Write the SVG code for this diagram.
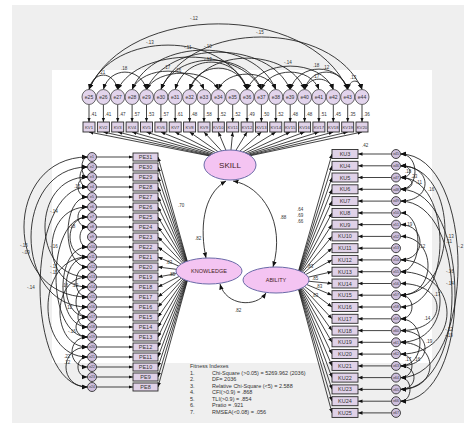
<svg xmlns="http://www.w3.org/2000/svg" width="465" height="424" viewBox="0 0 465 424">
<defs>
<style>
.ln{stroke:#222;stroke-width:.85;fill:none;marker-end:url(#ah)}
.cv{stroke:#1a1a1a;stroke-width:.85;fill:none;marker-start:url(#ch);marker-end:url(#ch)}
.ec{fill:#e2d4ec;stroke:#444;stroke-width:.8}
circle.ec{fill:#cdbfdc;stroke:#333;stroke-width:.9}
.ind{fill:#e0d2e8;stroke:#2a2a2a;stroke-width:.9}
.lat{fill:#f4c4f2;stroke:#6a6aa8;stroke-width:1}
text{font-family:"Liberation Sans",Arial,sans-serif;fill:#333}
.n{font-size:5px;text-anchor:middle}
.m{font-size:4.3px;text-anchor:middle}
.p{font-size:5.5px;text-anchor:middle}
.q{font-size:3.4px;text-anchor:middle}
.s{font-size:4.5px}
.f{font-size:5.5px}
.L{font-size:5.5px;text-anchor:middle;fill:#422}
</style>
<marker id="ah" viewBox="0 0 10 10" refX="10" refY="5" markerWidth="4.5" markerHeight="4.5" markerUnits="userSpaceOnUse" orient="auto"><path d="M0,1 L10,5 L0,9 z" fill="#111"/></marker>
<marker id="ch" viewBox="0 0 10 10" refX="10" refY="5" markerWidth="5.5" markerHeight="5.5" markerUnits="userSpaceOnUse" orient="auto-start-reverse"><path d="M0,1 L10,5 L0,9 z" fill="#111"/></marker>
</defs>
<rect x="0" y="0" width="465" height="424" fill="#fff"/>
<rect x="12" y="5" width="452" height="418" fill="#efefef"/>
<rect x="52" y="70" width="380" height="293" fill="#fff"/>

<g id="connectors">
<line class="ln" x1="230" y1="160" x2="89" y2="132"/>
<line class="ln" x1="230" y1="160" x2="103.4" y2="132"/>
<line class="ln" x1="230" y1="160" x2="117.7" y2="132"/>
<line class="ln" x1="230" y1="160" x2="132.1" y2="132"/>
<line class="ln" x1="230" y1="160" x2="146.5" y2="132"/>
<line class="ln" x1="230" y1="160" x2="160.9" y2="132"/>
<line class="ln" x1="230" y1="160" x2="175.2" y2="132"/>
<line class="ln" x1="230" y1="160" x2="189.6" y2="132"/>
<line class="ln" x1="230" y1="160" x2="204" y2="132"/>
<line class="ln" x1="230" y1="160" x2="218.3" y2="132"/>
<line class="ln" x1="230" y1="160" x2="232.7" y2="132"/>
<line class="ln" x1="230" y1="160" x2="247.1" y2="132"/>
<line class="ln" x1="230" y1="160" x2="261.4" y2="132"/>
<line class="ln" x1="230" y1="160" x2="275.8" y2="132"/>
<line class="ln" x1="230" y1="160" x2="290.2" y2="132"/>
<line class="ln" x1="230" y1="160" x2="304.6" y2="132"/>
<line class="ln" x1="230" y1="160" x2="318.9" y2="132"/>
<line class="ln" x1="230" y1="160" x2="333.3" y2="132"/>
<line class="ln" x1="230" y1="160" x2="347.7" y2="132"/>
<line class="ln" x1="230" y1="160" x2="362" y2="132"/>
<line class="ln" x1="89" y1="104.5" x2="89" y2="122"/>
<line class="ln" x1="103.4" y1="104.5" x2="103.4" y2="122"/>
<line class="ln" x1="117.7" y1="104.5" x2="117.7" y2="122"/>
<line class="ln" x1="132.1" y1="104.5" x2="132.1" y2="122"/>
<line class="ln" x1="146.5" y1="104.5" x2="146.5" y2="122"/>
<line class="ln" x1="160.9" y1="104.5" x2="160.9" y2="122"/>
<line class="ln" x1="175.2" y1="104.5" x2="175.2" y2="122"/>
<line class="ln" x1="189.6" y1="104.5" x2="189.6" y2="122"/>
<line class="ln" x1="204" y1="104.5" x2="204" y2="122"/>
<line class="ln" x1="218.3" y1="104.5" x2="218.3" y2="122"/>
<line class="ln" x1="232.7" y1="104.5" x2="232.7" y2="122"/>
<line class="ln" x1="247.1" y1="104.5" x2="247.1" y2="122"/>
<line class="ln" x1="261.4" y1="104.5" x2="261.4" y2="122"/>
<line class="ln" x1="275.8" y1="104.5" x2="275.8" y2="122"/>
<line class="ln" x1="290.2" y1="104.5" x2="290.2" y2="122"/>
<line class="ln" x1="304.6" y1="104.5" x2="304.6" y2="122"/>
<line class="ln" x1="318.9" y1="104.5" x2="318.9" y2="122"/>
<line class="ln" x1="333.3" y1="104.5" x2="333.3" y2="122"/>
<line class="ln" x1="347.7" y1="104.5" x2="347.7" y2="122"/>
<line class="ln" x1="362" y1="104.5" x2="362" y2="122"/>
<line class="ln" x1="190" y1="271" x2="158" y2="157"/>
<line class="ln" x1="190" y1="271" x2="158" y2="167"/>
<line class="ln" x1="190" y1="271" x2="158" y2="177"/>
<line class="ln" x1="190" y1="271" x2="158" y2="187"/>
<line class="ln" x1="190" y1="271" x2="158" y2="197"/>
<line class="ln" x1="190" y1="271" x2="158" y2="207"/>
<line class="ln" x1="190" y1="271" x2="158" y2="217"/>
<line class="ln" x1="190" y1="271" x2="158" y2="227"/>
<line class="ln" x1="190" y1="271" x2="158" y2="237"/>
<line class="ln" x1="190" y1="271" x2="158" y2="247"/>
<line class="ln" x1="190" y1="271" x2="158" y2="257"/>
<line class="ln" x1="190" y1="271" x2="158" y2="267"/>
<line class="ln" x1="190" y1="271" x2="158" y2="277"/>
<line class="ln" x1="190" y1="271" x2="158" y2="287"/>
<line class="ln" x1="190" y1="271" x2="158" y2="297"/>
<line class="ln" x1="190" y1="271" x2="158" y2="307"/>
<line class="ln" x1="190" y1="271" x2="158" y2="317"/>
<line class="ln" x1="190" y1="271" x2="158" y2="327"/>
<line class="ln" x1="190" y1="271" x2="158" y2="337"/>
<line class="ln" x1="190" y1="271" x2="158" y2="347"/>
<line class="ln" x1="190" y1="271" x2="158" y2="357"/>
<line class="ln" x1="190" y1="271" x2="158" y2="367"/>
<line class="ln" x1="190" y1="271" x2="158" y2="377"/>
<line class="ln" x1="190" y1="271" x2="158" y2="387"/>
<line class="ln" x1="96.5" y1="157" x2="133" y2="157"/>
<line class="ln" x1="96.5" y1="167" x2="133" y2="167"/>
<line class="ln" x1="96.5" y1="177" x2="133" y2="177"/>
<line class="ln" x1="96.5" y1="187" x2="133" y2="187"/>
<line class="ln" x1="96.5" y1="197" x2="133" y2="197"/>
<line class="ln" x1="96.5" y1="207" x2="133" y2="207"/>
<line class="ln" x1="96.5" y1="217" x2="133" y2="217"/>
<line class="ln" x1="96.5" y1="227" x2="133" y2="227"/>
<line class="ln" x1="96.5" y1="237" x2="133" y2="237"/>
<line class="ln" x1="96.5" y1="247" x2="133" y2="247"/>
<line class="ln" x1="96.5" y1="257" x2="133" y2="257"/>
<line class="ln" x1="96.5" y1="267" x2="133" y2="267"/>
<line class="ln" x1="96.5" y1="277" x2="133" y2="277"/>
<line class="ln" x1="96.5" y1="287" x2="133" y2="287"/>
<line class="ln" x1="96.5" y1="297" x2="133" y2="297"/>
<line class="ln" x1="96.5" y1="307" x2="133" y2="307"/>
<line class="ln" x1="96.5" y1="317" x2="133" y2="317"/>
<line class="ln" x1="96.5" y1="327" x2="133" y2="327"/>
<line class="ln" x1="96.5" y1="337" x2="133" y2="337"/>
<line class="ln" x1="96.5" y1="347" x2="133" y2="347"/>
<line class="ln" x1="96.5" y1="357" x2="133" y2="357"/>
<line class="ln" x1="96.5" y1="367" x2="133" y2="367"/>
<line class="ln" x1="96.5" y1="377" x2="133" y2="377"/>
<line class="ln" x1="96.5" y1="387" x2="133" y2="387"/>
<line class="ln" x1="296" y1="280" x2="332" y2="154"/>
<line class="ln" x1="296" y1="280" x2="332" y2="165.8"/>
<line class="ln" x1="296" y1="280" x2="332" y2="177.5"/>
<line class="ln" x1="296" y1="280" x2="332" y2="189.3"/>
<line class="ln" x1="296" y1="280" x2="332" y2="201.1"/>
<line class="ln" x1="296" y1="280" x2="332" y2="212.9"/>
<line class="ln" x1="296" y1="280" x2="332" y2="224.6"/>
<line class="ln" x1="296" y1="280" x2="332" y2="236.4"/>
<line class="ln" x1="296" y1="280" x2="332" y2="248.2"/>
<line class="ln" x1="296" y1="280" x2="332" y2="259.9"/>
<line class="ln" x1="296" y1="280" x2="332" y2="271.7"/>
<line class="ln" x1="296" y1="280" x2="332" y2="283.5"/>
<line class="ln" x1="296" y1="280" x2="332" y2="295.2"/>
<line class="ln" x1="296" y1="280" x2="332" y2="307"/>
<line class="ln" x1="296" y1="280" x2="332" y2="318.8"/>
<line class="ln" x1="296" y1="280" x2="332" y2="330.6"/>
<line class="ln" x1="296" y1="280" x2="332" y2="342.3"/>
<line class="ln" x1="296" y1="280" x2="332" y2="354.1"/>
<line class="ln" x1="296" y1="280" x2="332" y2="365.9"/>
<line class="ln" x1="296" y1="280" x2="332" y2="377.6"/>
<line class="ln" x1="296" y1="280" x2="332" y2="389.4"/>
<line class="ln" x1="296" y1="280" x2="332" y2="401.2"/>
<line class="ln" x1="296" y1="280" x2="332" y2="412.9"/>
<line class="ln" x1="391.5" y1="154" x2="358" y2="154"/>
<line class="ln" x1="391.5" y1="165.8" x2="358" y2="165.8"/>
<line class="ln" x1="391.5" y1="177.5" x2="358" y2="177.5"/>
<line class="ln" x1="391.5" y1="189.3" x2="358" y2="189.3"/>
<line class="ln" x1="391.5" y1="201.1" x2="358" y2="201.1"/>
<line class="ln" x1="391.5" y1="212.9" x2="358" y2="212.9"/>
<line class="ln" x1="391.5" y1="224.6" x2="358" y2="224.6"/>
<line class="ln" x1="391.5" y1="236.4" x2="358" y2="236.4"/>
<line class="ln" x1="391.5" y1="248.2" x2="358" y2="248.2"/>
<line class="ln" x1="391.5" y1="259.9" x2="358" y2="259.9"/>
<line class="ln" x1="391.5" y1="271.7" x2="358" y2="271.7"/>
<line class="ln" x1="391.5" y1="283.5" x2="358" y2="283.5"/>
<line class="ln" x1="391.5" y1="295.2" x2="358" y2="295.2"/>
<line class="ln" x1="391.5" y1="307" x2="358" y2="307"/>
<line class="ln" x1="391.5" y1="318.8" x2="358" y2="318.8"/>
<line class="ln" x1="391.5" y1="330.6" x2="358" y2="330.6"/>
<line class="ln" x1="391.5" y1="342.3" x2="358" y2="342.3"/>
<line class="ln" x1="391.5" y1="354.1" x2="358" y2="354.1"/>
<line class="ln" x1="391.5" y1="365.9" x2="358" y2="365.9"/>
<line class="ln" x1="391.5" y1="377.6" x2="358" y2="377.6"/>
<line class="ln" x1="391.5" y1="389.4" x2="358" y2="389.4"/>
<line class="ln" x1="391.5" y1="401.2" x2="358" y2="401.2"/>
<line class="ln" x1="391.5" y1="412.9" x2="358" y2="412.9"/>
<path class="cv" d="M206 258 C200 230 202 195 226 181"/>
<path class="cv" d="M233 181 C262 186 286 222 273 267"/>
<path class="cv" d="M220 284 C226 306 256 308 266 293"/>
<path class="cv" d="M89 89.5 C127.8 2 308.9 2 347.7 89.5"/>
<path class="cv" d="M160.9 89.5 C191.1 19.5 331.8 19.5 362 89.5"/>
<path class="cv" d="M89 89.5 C112.7 30.3 223.4 30.3 247.1 89.5"/>
<path class="cv" d="M132.1 89.5 C153.7 37 254.2 37 275.8 89.5"/>
<path class="cv" d="M146.5 89.5 C168.1 39.7 268.6 39.7 290.2 89.5"/>
<path class="cv" d="M175.2 89.5 C186 53 236.3 53 247.1 89.5"/>
<path class="cv" d="M247.1 89.5 C260 58.3 320.4 58.3 333.3 89.5"/>
<path class="cv" d="M89 89.5 C93.3 70.3 113.4 70.3 117.7 89.5"/>
<path class="cv" d="M103.4 89.5 C109.9 66.3 140 66.3 146.5 89.5"/>
<path class="cv" d="M132.1 89.5 C142.9 65 193.2 65 204 89.5"/>
<path class="cv" d="M146.5 89.5 C157.3 67.7 207.5 67.7 218.3 89.5"/>
<path class="cv" d="M290.2 89.5 C298.8 62.3 339.1 62.3 347.7 89.5"/>
<path class="cv" d="M304.6 89.5 C311.1 66.3 341.2 66.3 347.7 89.5"/>
<path class="cv" d="M304.6 89.5 C308.9 75.7 329 75.7 333.3 89.5"/>
<path class="cv" d="M347.7 89.5 C349.8 78.3 359.9 78.3 362 89.5"/>
<path class="cv" d="M117.7 89.5 C139.3 46.3 239.8 46.3 261.4 89.5"/>
<path class="cv" d="M189.6 89.5 C206.9 47.7 287.3 47.7 304.6 89.5"/>
<path class="cv" d="M261.4 89.5 C270 66.3 310.3 66.3 318.9 89.5"/>
<path class="cv" d="M218.3 89.5 C226.9 69 267.2 69 275.8 89.5"/>
<path class="cv" d="M160.9 89.5 C176 50.3 246.3 50.3 261.4 89.5"/>
<path class="cv" d="M189.6 89.5 C198.2 61 238.5 61 247.1 89.5"/>
<path class="cv" d="M87.5 157 C2.8 157 2.8 297 87.5 297"/>
<path class="cv" d="M87.5 167 C12.2 167 12.2 307 87.5 307"/>
<path class="cv" d="M87.5 187 C24.2 187 24.2 387 87.5 387"/>
<path class="cv" d="M87.5 177 C30.8 177 30.8 277 87.5 277"/>
<path class="cv" d="M87.5 207 C40.2 207 40.2 287 87.5 287"/>
<path class="cv" d="M87.5 217 C45.5 217 45.5 337 87.5 337"/>
<path class="cv" d="M87.5 247 C54.8 247 54.8 327 87.5 327"/>
<path class="cv" d="M87.5 257 C58.8 257 58.8 317 87.5 317"/>
<path class="cv" d="M87.5 157 C80 157 80 177 87.5 177"/>
<path class="cv" d="M87.5 167 C77.5 167 77.5 187 87.5 187"/>
<path class="cv" d="M87.5 177 C74.8 177 74.8 197 87.5 197"/>
<path class="cv" d="M87.5 207 C74.8 207 74.8 227 87.5 227"/>
<path class="cv" d="M87.5 287 C72.2 287 72.2 317 87.5 317"/>
<path class="cv" d="M87.5 307 C74.8 307 74.8 327 87.5 327"/>
<path class="cv" d="M87.5 317 C72.2 317 72.2 337 87.5 337"/>
<path class="cv" d="M87.5 337 C66.8 337 66.8 367 87.5 367"/>
<path class="cv" d="M87.5 357 C74.8 357 74.8 377 87.5 377"/>
<path class="cv" d="M87.5 347 C58.8 347 58.8 387 87.5 387"/>
<path class="cv" d="M87.5 257 C34.8 257 34.8 357 87.5 357"/>
<path class="cv" d="M87.5 197 C61.5 197 61.5 267 87.5 267"/>
<path class="cv" d="M87.5 227 C77.5 227 77.5 247 87.5 247"/>
<path class="cv" d="M87.5 267 C72.2 267 72.2 297 87.5 297"/>
<path class="cv" d="M87.5 217 C64.2 217 64.2 257 87.5 257"/>
<path class="cv" d="M87.5 277 C50.8 277 50.8 347 87.5 347"/>
<path class="cv" d="M400.5 154 C477.2 154 477.2 377.6 400.5 377.6"/>
<path class="cv" d="M400.5 165.8 C459.8 165.8 459.8 295.2 400.5 295.2"/>
<path class="cv" d="M400.5 177.5 C453.2 177.5 453.2 307 400.5 307"/>
<path class="cv" d="M400.5 165.8 C433.2 165.8 433.2 201.1 400.5 201.1"/>
<path class="cv" d="M400.5 165.8 C413.2 165.8 413.2 177.5 400.5 177.5"/>
<path class="cv" d="M400.5 177.5 C415.8 177.5 415.8 189.3 400.5 189.3"/>
<path class="cv" d="M400.5 212.9 C423.8 212.9 423.8 271.7 400.5 271.7"/>
<path class="cv" d="M400.5 224.6 C426.5 224.6 426.5 259.9 400.5 259.9"/>
<path class="cv" d="M400.5 259.9 C453.2 259.9 453.2 342.3 400.5 342.3"/>
<path class="cv" d="M400.5 271.7 C462.5 271.7 462.5 354.1 400.5 354.1"/>
<path class="cv" d="M400.5 201.1 C469.2 201.1 469.2 389.4 400.5 389.4"/>
<path class="cv" d="M400.5 189.3 C473.2 189.3 473.2 401.2 400.5 401.2"/>
<path class="cv" d="M400.5 283.5 C449.2 283.5 449.2 330.6 400.5 330.6"/>
<path class="cv" d="M400.5 330.6 C433.2 330.6 433.2 365.9 400.5 365.9"/>
<path class="cv" d="M400.5 354.1 C415.8 354.1 415.8 377.6 400.5 377.6"/>
<path class="cv" d="M400.5 377.6 C413.2 377.6 413.2 401.2 400.5 401.2"/>
<path class="cv" d="M400.5 342.3 C439.8 342.3 439.8 389.4 400.5 389.4"/>
<path class="cv" d="M400.5 236.4 C437.2 236.4 437.2 295.2 400.5 295.2"/>
<path class="cv" d="M400.5 318.8 C426.5 318.8 426.5 365.9 400.5 365.9"/>
<path class="cv" d="M400.5 154 C419.8 154 419.8 189.3 400.5 189.3"/>
<path class="cv" d="M400.5 295.2 C415.8 295.2 415.8 318.8 400.5 318.8"/>
<path class="cv" d="M400.5 365.9 C418.5 365.9 418.5 389.4 400.5 389.4"/>
</g>

<g id="labels">
<text class="s" x="190" y="20">-.12</text>
<text class="s" x="256" y="34">-.15</text>
<text class="s" x="146" y="44">-.13</text>
<text class="s" x="184" y="49">-.11</text>
<text class="s" x="204" y="48">-.10</text>
<text class="s" x="204" y="61">-.13</text>
<text class="s" x="284" y="64">-.14</text>
<text class="s" x="99" y="74">.21</text>
<text class="s" x="121" y="70">.18</text>
<text class="s" x="164" y="69">.17</text>
<text class="s" x="175" y="72">.16</text>
<text class="s" x="313" y="67">.18</text>
<text class="s" x="323" y="69">.12</text>
<text class="s" x="313" y="78">.17</text>
<text class="s" x="350" y="79">.13</text>
<text class="s" x="90.5" y="116">.41</text>
<text class="s" x="104.9" y="116">.41</text>
<text class="s" x="119.2" y="116">.47</text>
<text class="s" x="133.6" y="116">.57</text>
<text class="s" x="148" y="116">.53</text>
<text class="s" x="162.4" y="116">.57</text>
<text class="s" x="176.7" y="116">.61</text>
<text class="s" x="191.1" y="116">.48</text>
<text class="s" x="205.5" y="116">.58</text>
<text class="s" x="219.8" y="116">.52</text>
<text class="s" x="234.2" y="116">.52</text>
<text class="s" x="248.6" y="116">.49</text>
<text class="s" x="262.9" y="116">.50</text>
<text class="s" x="277.3" y="116">.52</text>
<text class="s" x="291.7" y="116">.48</text>
<text class="s" x="306.1" y="116">.48</text>
<text class="s" x="320.4" y="116">.51</text>
<text class="s" x="334.8" y="116">.45</text>
<text class="s" x="349.2" y="116">.35</text>
<text class="s" x="363.5" y="116">.36</text>
<text class="s" x="20" y="247">-.15</text>
<text class="s" x="22" y="254">-.09</text>
<text class="s" x="50" y="213">-.14</text>
<text class="s" x="50" y="248">-.16</text>
<text class="s" x="50" y="268">-.11</text>
<text class="s" x="50" y="274">-.15</text>
<text class="s" x="27" y="289">-.14</text>
<text class="s" x="74" y="188">.15</text>
<text class="s" x="69" y="228">.18</text>
<text class="s" x="62" y="287">.16</text>
<text class="s" x="72" y="287">.22</text>
<text class="s" x="66" y="309">.12</text>
<text class="s" x="68" y="333">-.16</text>
<text class="s" x="64" y="358">.22</text>
<text class="s" x="64" y="364">.12</text>
<text class="s" x="405" y="173">.18</text>
<text class="s" x="411" y="178">.23</text>
<text class="s" x="416" y="184">.11</text>
<text class="s" x="428" y="191">.16</text>
<text class="s" x="406" y="226">.19</text>
<text class="s" x="419" y="248">.12</text>
<text class="s" x="446" y="238">-.13</text>
<text class="s" x="446" y="243">.11</text>
<text class="s" x="458" y="248">-.2</text>
<text class="s" x="446" y="273">-.16</text>
<text class="s" x="446" y="285">-.14</text>
<text class="s" x="434" y="296">.17</text>
<text class="s" x="424" y="320">.14</text>
<text class="s" x="445" y="331">-.12</text>
<text class="s" x="445" y="337">-.19</text>
<text class="s" x="426" y="343">.19</text>
<text class="s" x="405" y="361">.17</text>
<text class="s" x="414" y="361">.16</text>
<text class="s" x="362" y="147">.42</text>
<text class="s" x="178" y="207">.70</text>
<text class="s" x="166" y="264">.83</text>
<text class="s" x="169" y="276">.85</text>
<text class="s" x="297" y="211">.64</text>
<text class="s" x="297" y="217">.69</text>
<text class="s" x="297" y="223">.66</text>
<text class="s" x="307" y="268">.83</text>
<text class="s" x="312" y="280">.85</text>
<text class="s" x="316" y="288">.83</text>
<text class="s" x="312" y="297">.83</text>
<text class="s" x="195" y="240">.82</text>
<text class="s" x="280" y="219">.88</text>
<text class="s" x="235" y="312">.82</text>
</g>

<g id="fitness">
<text class="f" x="190" y="368">Fitness Indexes</text>
<text class="f" x="190" y="374.5">1.</text><text class="f" x="212" y="374.5">Chi-Square (&gt;0.05) = 5269.962 (2036)</text>
<text class="f" x="190" y="381">2.</text><text class="f" x="212" y="381">DF= 2036</text>
<text class="f" x="190" y="387.5">3.</text><text class="f" x="212" y="387.5">Relative Chi-Square (&lt;5) = 2.588</text>
<text class="f" x="190" y="394">4.</text><text class="f" x="212" y="394">CFI(&gt;0.9) = .868</text>
<text class="f" x="190" y="400.5">5.</text><text class="f" x="212" y="400.5">TLI(&gt;0.9) = .854</text>
<text class="f" x="190" y="407">6.</text><text class="f" x="212" y="407">Pratio = .921</text>
<text class="f" x="190" y="413.5">7.</text><text class="f" x="212" y="413.5">RMSEA(&lt;0.08) = .056</text>
</g>

<g id="SKILL"><ellipse class="lat" cx="230" cy="165" rx="26" ry="15"/><text x="230" y="168" style="font-size:8px;text-anchor:middle;fill:#422">SKILL</text></g>
<g id="KNOWLEDGE"><ellipse class="lat" cx="209" cy="271" rx="33" ry="13"/><text class="L" x="209" y="273">KNOWLEDGE</text></g>
<g id="ABILITY"><ellipse class="lat" cx="276" cy="280" rx="33" ry="13"/><text class="L" x="276" y="282">ABILITY</text></g>

<g id="e25"><ellipse class="ec" cx="89" cy="97" rx="7" ry="7.5"/><text class="n" x="89" y="98.8">e25</text></g>
<g id="e26"><ellipse class="ec" cx="103.4" cy="97" rx="7" ry="7.5"/><text class="n" x="103.4" y="98.8">e26</text></g>
<g id="e27"><ellipse class="ec" cx="117.7" cy="97" rx="7" ry="7.5"/><text class="n" x="117.7" y="98.8">e27</text></g>
<g id="e28"><ellipse class="ec" cx="132.1" cy="97" rx="7" ry="7.5"/><text class="n" x="132.1" y="98.8">e28</text></g>
<g id="e29"><ellipse class="ec" cx="146.5" cy="97" rx="7" ry="7.5"/><text class="n" x="146.5" y="98.8">e29</text></g>
<g id="e30"><ellipse class="ec" cx="160.9" cy="97" rx="7" ry="7.5"/><text class="n" x="160.9" y="98.8">e30</text></g>
<g id="e31"><ellipse class="ec" cx="175.2" cy="97" rx="7" ry="7.5"/><text class="n" x="175.2" y="98.8">e31</text></g>
<g id="e32"><ellipse class="ec" cx="189.6" cy="97" rx="7" ry="7.5"/><text class="n" x="189.6" y="98.8">e32</text></g>
<g id="e33"><ellipse class="ec" cx="204" cy="97" rx="7" ry="7.5"/><text class="n" x="204" y="98.8">e33</text></g>
<g id="e34"><ellipse class="ec" cx="218.3" cy="97" rx="7" ry="7.5"/><text class="n" x="218.3" y="98.8">e34</text></g>
<g id="e35"><ellipse class="ec" cx="232.7" cy="97" rx="7" ry="7.5"/><text class="n" x="232.7" y="98.8">e35</text></g>
<g id="e36"><ellipse class="ec" cx="247.1" cy="97" rx="7" ry="7.5"/><text class="n" x="247.1" y="98.8">e36</text></g>
<g id="e37"><ellipse class="ec" cx="261.4" cy="97" rx="7" ry="7.5"/><text class="n" x="261.4" y="98.8">e37</text></g>
<g id="e38"><ellipse class="ec" cx="275.8" cy="97" rx="7" ry="7.5"/><text class="n" x="275.8" y="98.8">e38</text></g>
<g id="e39"><ellipse class="ec" cx="290.2" cy="97" rx="7" ry="7.5"/><text class="n" x="290.2" y="98.8">e39</text></g>
<g id="e40"><ellipse class="ec" cx="304.6" cy="97" rx="7" ry="7.5"/><text class="n" x="304.6" y="98.8">e40</text></g>
<g id="e41"><ellipse class="ec" cx="318.9" cy="97" rx="7" ry="7.5"/><text class="n" x="318.9" y="98.8">e41</text></g>
<g id="e42"><ellipse class="ec" cx="333.3" cy="97" rx="7" ry="7.5"/><text class="n" x="333.3" y="98.8">e42</text></g>
<g id="e43"><ellipse class="ec" cx="347.7" cy="97" rx="7" ry="7.5"/><text class="n" x="347.7" y="98.8">e43</text></g>
<g id="e44"><ellipse class="ec" cx="362" cy="97" rx="7" ry="7.5"/><text class="n" x="362" y="98.8">e44</text></g>

<g id="KV1"><rect class="ind" x="83" y="122" width="12" height="10"/><text class="m" x="89" y="128.5">KV1</text></g>
<g id="KV2"><rect class="ind" x="97.4" y="122" width="12" height="10"/><text class="m" x="103.4" y="128.5">KV2</text></g>
<g id="KV3"><rect class="ind" x="111.7" y="122" width="12" height="10"/><text class="m" x="117.7" y="128.5">KV3</text></g>
<g id="KV4"><rect class="ind" x="126.1" y="122" width="12" height="10"/><text class="m" x="132.1" y="128.5">KV4</text></g>
<g id="KV5"><rect class="ind" x="140.5" y="122" width="12" height="10"/><text class="m" x="146.5" y="128.5">KV5</text></g>
<g id="KV6"><rect class="ind" x="154.9" y="122" width="12" height="10"/><text class="m" x="160.9" y="128.5">KV6</text></g>
<g id="KV7"><rect class="ind" x="169.2" y="122" width="12" height="10"/><text class="m" x="175.2" y="128.5">KV7</text></g>
<g id="KV8"><rect class="ind" x="183.6" y="122" width="12" height="10"/><text class="m" x="189.6" y="128.5">KV8</text></g>
<g id="KV9"><rect class="ind" x="198" y="122" width="12" height="10"/><text class="m" x="204" y="128.5">KV9</text></g>
<g id="KV10"><rect class="ind" x="212.3" y="122" width="12" height="10"/><text class="m" x="218.3" y="128.5">KV10</text></g>
<g id="KV11"><rect class="ind" x="226.7" y="122" width="12" height="10"/><text class="m" x="232.7" y="128.5">KV11</text></g>
<g id="KV12"><rect class="ind" x="241.1" y="122" width="12" height="10"/><text class="m" x="247.1" y="128.5">KV12</text></g>
<g id="KV13"><rect class="ind" x="255.4" y="122" width="12" height="10"/><text class="m" x="261.4" y="128.5">KV13</text></g>
<g id="KV14"><rect class="ind" x="269.8" y="122" width="12" height="10"/><text class="m" x="275.8" y="128.5">KV14</text></g>
<g id="KV15"><rect class="ind" x="284.2" y="122" width="12" height="10"/><text class="m" x="290.2" y="128.5">KV15</text></g>
<g id="KV16"><rect class="ind" x="298.6" y="122" width="12" height="10"/><text class="m" x="304.6" y="128.5">KV16</text></g>
<g id="KV17"><rect class="ind" x="312.9" y="122" width="12" height="10"/><text class="m" x="318.9" y="128.5">KV17</text></g>
<g id="KV18"><rect class="ind" x="327.3" y="122" width="12" height="10"/><text class="m" x="333.3" y="128.5">KV18</text></g>
<g id="KV19"><rect class="ind" x="341.7" y="122" width="12" height="10"/><text class="m" x="347.7" y="128.5">KV19</text></g>
<g id="KV20"><rect class="ind" x="356" y="122" width="12" height="10"/><text class="m" x="362" y="128.5">KV20</text></g>

<g id="PE31"><rect class="ind" x="133" y="153" width="25" height="8"/><text class="p" x="145.5" y="159">PE31</text></g>
<g id="PE30"><rect class="ind" x="133" y="163" width="25" height="8"/><text class="p" x="145.5" y="169">PE30</text></g>
<g id="PE29"><rect class="ind" x="133" y="173" width="25" height="8"/><text class="p" x="145.5" y="179">PE29</text></g>
<g id="PE28"><rect class="ind" x="133" y="183" width="25" height="8"/><text class="p" x="145.5" y="189">PE28</text></g>
<g id="PE27"><rect class="ind" x="133" y="193" width="25" height="8"/><text class="p" x="145.5" y="199">PE27</text></g>
<g id="PE26"><rect class="ind" x="133" y="203" width="25" height="8"/><text class="p" x="145.5" y="209">PE26</text></g>
<g id="PE25"><rect class="ind" x="133" y="213" width="25" height="8"/><text class="p" x="145.5" y="219">PE25</text></g>
<g id="PE24"><rect class="ind" x="133" y="223" width="25" height="8"/><text class="p" x="145.5" y="229">PE24</text></g>
<g id="PE23"><rect class="ind" x="133" y="233" width="25" height="8"/><text class="p" x="145.5" y="239">PE23</text></g>
<g id="PE22"><rect class="ind" x="133" y="243" width="25" height="8"/><text class="p" x="145.5" y="249">PE22</text></g>
<g id="PE21"><rect class="ind" x="133" y="253" width="25" height="8"/><text class="p" x="145.5" y="259">PE21</text></g>
<g id="PE20"><rect class="ind" x="133" y="263" width="25" height="8"/><text class="p" x="145.5" y="269">PE20</text></g>
<g id="PE19"><rect class="ind" x="133" y="273" width="25" height="8"/><text class="p" x="145.5" y="279">PE19</text></g>
<g id="PE18"><rect class="ind" x="133" y="283" width="25" height="8"/><text class="p" x="145.5" y="289">PE18</text></g>
<g id="PE17"><rect class="ind" x="133" y="293" width="25" height="8"/><text class="p" x="145.5" y="299">PE17</text></g>
<g id="PE16"><rect class="ind" x="133" y="303" width="25" height="8"/><text class="p" x="145.5" y="309">PE16</text></g>
<g id="PE15"><rect class="ind" x="133" y="313" width="25" height="8"/><text class="p" x="145.5" y="319">PE15</text></g>
<g id="PE14"><rect class="ind" x="133" y="323" width="25" height="8"/><text class="p" x="145.5" y="329">PE14</text></g>
<g id="PE13"><rect class="ind" x="133" y="333" width="25" height="8"/><text class="p" x="145.5" y="339">PE13</text></g>
<g id="PE12"><rect class="ind" x="133" y="343" width="25" height="8"/><text class="p" x="145.5" y="349">PE12</text></g>
<g id="PE11"><rect class="ind" x="133" y="353" width="25" height="8"/><text class="p" x="145.5" y="359">PE11</text></g>
<g id="PE10"><rect class="ind" x="133" y="363" width="25" height="8"/><text class="p" x="145.5" y="369">PE10</text></g>
<g id="PE9"><rect class="ind" x="133" y="373" width="25" height="8"/><text class="p" x="145.5" y="379">PE9</text></g>
<g id="PE8"><rect class="ind" x="133" y="383" width="25" height="8"/><text class="p" x="145.5" y="389">PE8</text></g>

<g id="e1"><circle class="ec" cx="92" cy="157" r="4.5"/><text class="q" x="92" y="158.2">e1</text></g>
<g id="e2"><circle class="ec" cx="92" cy="167" r="4.5"/><text class="q" x="92" y="168.2">e2</text></g>
<g id="e3"><circle class="ec" cx="92" cy="177" r="4.5"/><text class="q" x="92" y="178.2">e3</text></g>
<g id="e4"><circle class="ec" cx="92" cy="187" r="4.5"/><text class="q" x="92" y="188.2">e4</text></g>
<g id="e5"><circle class="ec" cx="92" cy="197" r="4.5"/><text class="q" x="92" y="198.2">e5</text></g>
<g id="e6"><circle class="ec" cx="92" cy="207" r="4.5"/><text class="q" x="92" y="208.2">e6</text></g>
<g id="e7"><circle class="ec" cx="92" cy="217" r="4.5"/><text class="q" x="92" y="218.2">e7</text></g>
<g id="e8"><circle class="ec" cx="92" cy="227" r="4.5"/><text class="q" x="92" y="228.2">e8</text></g>
<g id="e9"><circle class="ec" cx="92" cy="237" r="4.5"/><text class="q" x="92" y="238.2">e9</text></g>
<g id="e10"><circle class="ec" cx="92" cy="247" r="4.5"/><text class="q" x="92" y="248.2">e10</text></g>
<g id="e11"><circle class="ec" cx="92" cy="257" r="4.5"/><text class="q" x="92" y="258.2">e11</text></g>
<g id="e12"><circle class="ec" cx="92" cy="267" r="4.5"/><text class="q" x="92" y="268.2">e12</text></g>
<g id="e13"><circle class="ec" cx="92" cy="277" r="4.5"/><text class="q" x="92" y="278.2">e13</text></g>
<g id="e14"><circle class="ec" cx="92" cy="287" r="4.5"/><text class="q" x="92" y="288.2">e14</text></g>
<g id="e15"><circle class="ec" cx="92" cy="297" r="4.5"/><text class="q" x="92" y="298.2">e15</text></g>
<g id="e16"><circle class="ec" cx="92" cy="307" r="4.5"/><text class="q" x="92" y="308.2">e16</text></g>
<g id="e17"><circle class="ec" cx="92" cy="317" r="4.5"/><text class="q" x="92" y="318.2">e17</text></g>
<g id="e18"><circle class="ec" cx="92" cy="327" r="4.5"/><text class="q" x="92" y="328.2">e18</text></g>
<g id="e19"><circle class="ec" cx="92" cy="337" r="4.5"/><text class="q" x="92" y="338.2">e19</text></g>
<g id="e20"><circle class="ec" cx="92" cy="347" r="4.5"/><text class="q" x="92" y="348.2">e20</text></g>
<g id="e21"><circle class="ec" cx="92" cy="357" r="4.5"/><text class="q" x="92" y="358.2">e21</text></g>
<g id="e22"><circle class="ec" cx="92" cy="367" r="4.5"/><text class="q" x="92" y="368.2">e22</text></g>
<g id="e23"><circle class="ec" cx="92" cy="377" r="4.5"/><text class="q" x="92" y="378.2">e23</text></g>
<g id="e24"><circle class="ec" cx="92" cy="387" r="4.5"/><text class="q" x="92" y="388.2">e24</text></g>

<g id="KU3"><rect class="ind" x="332" y="149.5" width="26" height="9"/><text class="p" x="345" y="156">KU3</text></g>
<g id="KU4"><rect class="ind" x="332" y="161.3" width="26" height="9"/><text class="p" x="345" y="167.8">KU4</text></g>
<g id="KU5"><rect class="ind" x="332" y="173" width="26" height="9"/><text class="p" x="345" y="179.5">KU5</text></g>
<g id="KU6"><rect class="ind" x="332" y="184.8" width="26" height="9"/><text class="p" x="345" y="191.3">KU6</text></g>
<g id="KU7"><rect class="ind" x="332" y="196.6" width="26" height="9"/><text class="p" x="345" y="203.1">KU7</text></g>
<g id="KU8"><rect class="ind" x="332" y="208.4" width="26" height="9"/><text class="p" x="345" y="214.9">KU8</text></g>
<g id="KU9"><rect class="ind" x="332" y="220.1" width="26" height="9"/><text class="p" x="345" y="226.6">KU9</text></g>
<g id="KU10"><rect class="ind" x="332" y="231.9" width="26" height="9"/><text class="p" x="345" y="238.4">KU10</text></g>
<g id="KU11"><rect class="ind" x="332" y="243.7" width="26" height="9"/><text class="p" x="345" y="250.2">KU11</text></g>
<g id="KU12"><rect class="ind" x="332" y="255.4" width="26" height="9"/><text class="p" x="345" y="261.9">KU12</text></g>
<g id="KU13"><rect class="ind" x="332" y="267.2" width="26" height="9"/><text class="p" x="345" y="273.7">KU13</text></g>
<g id="KU14"><rect class="ind" x="332" y="279" width="26" height="9"/><text class="p" x="345" y="285.5">KU14</text></g>
<g id="KU15"><rect class="ind" x="332" y="290.7" width="26" height="9"/><text class="p" x="345" y="297.2">KU15</text></g>
<g id="KU16"><rect class="ind" x="332" y="302.5" width="26" height="9"/><text class="p" x="345" y="309">KU16</text></g>
<g id="KU17"><rect class="ind" x="332" y="314.3" width="26" height="9"/><text class="p" x="345" y="320.8">KU17</text></g>
<g id="KU18"><rect class="ind" x="332" y="326.1" width="26" height="9"/><text class="p" x="345" y="332.6">KU18</text></g>
<g id="KU19"><rect class="ind" x="332" y="337.8" width="26" height="9"/><text class="p" x="345" y="344.3">KU19</text></g>
<g id="KU20"><rect class="ind" x="332" y="349.6" width="26" height="9"/><text class="p" x="345" y="356.1">KU20</text></g>
<g id="KU21"><rect class="ind" x="332" y="361.4" width="26" height="9"/><text class="p" x="345" y="367.9">KU21</text></g>
<g id="KU22"><rect class="ind" x="332" y="373.1" width="26" height="9"/><text class="p" x="345" y="379.6">KU22</text></g>
<g id="KU23"><rect class="ind" x="332" y="384.9" width="26" height="9"/><text class="p" x="345" y="391.4">KU23</text></g>
<g id="KU24"><rect class="ind" x="332" y="396.7" width="26" height="9"/><text class="p" x="345" y="403.2">KU24</text></g>
<g id="KU25"><rect class="ind" x="332" y="408.4" width="26" height="9"/><text class="p" x="345" y="414.9">KU25</text></g>

<g id="e45"><circle class="ec" cx="396" cy="154" r="4.5"/><text class="q" x="396" y="155.2">e45</text></g>
<g id="e46"><circle class="ec" cx="396" cy="165.8" r="4.5"/><text class="q" x="396" y="167">e46</text></g>
<g id="e47"><circle class="ec" cx="396" cy="177.5" r="4.5"/><text class="q" x="396" y="178.7">e47</text></g>
<g id="e48"><circle class="ec" cx="396" cy="189.3" r="4.5"/><text class="q" x="396" y="190.5">e48</text></g>
<g id="e49"><circle class="ec" cx="396" cy="201.1" r="4.5"/><text class="q" x="396" y="202.3">e49</text></g>
<g id="e50"><circle class="ec" cx="396" cy="212.9" r="4.5"/><text class="q" x="396" y="214.1">e50</text></g>
<g id="e51"><circle class="ec" cx="396" cy="224.6" r="4.5"/><text class="q" x="396" y="225.8">e51</text></g>
<g id="e52"><circle class="ec" cx="396" cy="236.4" r="4.5"/><text class="q" x="396" y="237.6">e52</text></g>
<g id="e53"><circle class="ec" cx="396" cy="248.2" r="4.5"/><text class="q" x="396" y="249.4">e53</text></g>
<g id="e54"><circle class="ec" cx="396" cy="259.9" r="4.5"/><text class="q" x="396" y="261.1">e54</text></g>
<g id="e55"><circle class="ec" cx="396" cy="271.7" r="4.5"/><text class="q" x="396" y="272.9">e55</text></g>
<g id="e56"><circle class="ec" cx="396" cy="283.5" r="4.5"/><text class="q" x="396" y="284.7">e56</text></g>
<g id="e57"><circle class="ec" cx="396" cy="295.2" r="4.5"/><text class="q" x="396" y="296.4">e57</text></g>
<g id="e58"><circle class="ec" cx="396" cy="307" r="4.5"/><text class="q" x="396" y="308.2">e58</text></g>
<g id="e59"><circle class="ec" cx="396" cy="318.8" r="4.5"/><text class="q" x="396" y="320">e59</text></g>
<g id="e60"><circle class="ec" cx="396" cy="330.6" r="4.5"/><text class="q" x="396" y="331.8">e60</text></g>
<g id="e61"><circle class="ec" cx="396" cy="342.3" r="4.5"/><text class="q" x="396" y="343.5">e61</text></g>
<g id="e62"><circle class="ec" cx="396" cy="354.1" r="4.5"/><text class="q" x="396" y="355.3">e62</text></g>
<g id="e63"><circle class="ec" cx="396" cy="365.9" r="4.5"/><text class="q" x="396" y="367.1">e63</text></g>
<g id="e64"><circle class="ec" cx="396" cy="377.6" r="4.5"/><text class="q" x="396" y="378.8">e64</text></g>
<g id="e65"><circle class="ec" cx="396" cy="389.4" r="4.5"/><text class="q" x="396" y="390.6">e65</text></g>
<g id="e66"><circle class="ec" cx="396" cy="401.2" r="4.5"/><text class="q" x="396" y="402.4">e66</text></g>
<g id="e67"><circle class="ec" cx="396" cy="412.9" r="4.5"/><text class="q" x="396" y="414.1">e67</text></g>
</svg>
